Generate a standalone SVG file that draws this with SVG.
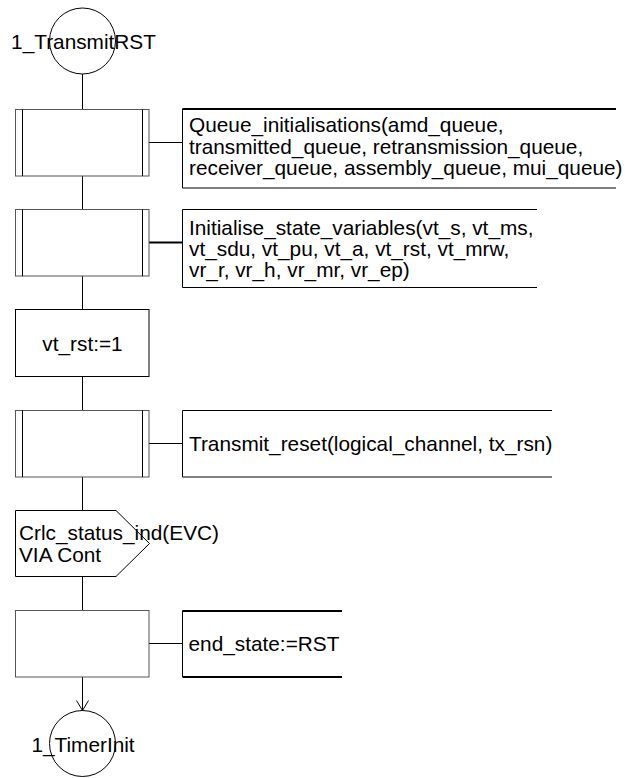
<svg xmlns="http://www.w3.org/2000/svg" width="625" height="778" viewBox="0 0 625 778">
<style>
text{font-family:"Liberation Sans",Arial,sans-serif;font-size:20.8px;fill:#000}
.ln{stroke:#000;stroke-width:1;fill:none}
.box{stroke:#000;stroke-width:1;fill:#fff}
.pbox{stroke:#555;stroke-width:1;fill:#fff}
</style>
<defs>
<marker id="open" markerWidth="24" markerHeight="14" refX="11" refY="6" orient="auto" markerUnits="userSpaceOnUse">
<path d="M1,0 L11,6 L1,12" fill="none" stroke="#000" stroke-width="1"/>
</marker>
</defs>
<rect width="625" height="778" fill="#fff"/>
<g id="connectors">
<line class="ln" x1="82.5" y1="74" x2="82.5" y2="109"/>
<line class="ln" x1="82.5" y1="176" x2="82.5" y2="209"/>
<line class="ln" x1="82.5" y1="276" x2="82.5" y2="309.5"/>
<line class="ln" x1="82.5" y1="376.5" x2="82.5" y2="410"/>
<line class="ln" x1="82.5" y1="477" x2="82.5" y2="510"/>
<line class="ln" x1="82.5" y1="576.5" x2="82.5" y2="610.5"/>
<line class="ln" x1="82.5" y1="677" x2="82.5" y2="710.5" marker-end="url(#open)"/>
<line class="ln" x1="149" y1="142.5" x2="182.5" y2="142.5"/>
<line x1="149" y1="242.5" x2="182.5" y2="242.5" stroke="#000" stroke-width="2"/>
<line class="ln" x1="149" y1="443.5" x2="182.5" y2="443.5"/>
<line class="ln" x1="149" y1="643.5" x2="182.5" y2="643.5"/>
</g>
<g id="start">
<circle class="ln" cx="82.5" cy="41" r="33"/>
<text x="83.5" y="48.5" text-anchor="middle">1_TransmitRST</text>
</g>
<g id="queue_init">
<rect class="pbox" x="15.5" y="109.5" width="133.5" height="66.5"/>
<line class="ln" x1="22.5" y1="109.5" x2="22.5" y2="176"/>
<line class="ln" x1="142.5" y1="109.5" x2="142.5" y2="176"/>
</g>
<g id="queue_init_comment">
<path class="ln" d="M616,109 L182.5,109 L182.5,188 L616,188"/>
<line x1="182.5" y1="109" x2="616" y2="109" stroke="#000" stroke-width="2"/>
<text x="189" y="132">Queue_initialisations(amd_queue,</text>
<text x="189" y="153.5">transmitted_queue, retransmission_queue,</text>
<text x="189" y="175">receiver_queue, assembly_queue, mui_queue)</text>
</g>
<g id="init_vars">
<rect class="pbox" x="15.5" y="209.5" width="133.5" height="66.5"/>
<line class="ln" x1="22.5" y1="209.5" x2="22.5" y2="276"/>
<line class="ln" x1="142.5" y1="209.5" x2="142.5" y2="276"/>
</g>
<g id="init_vars_comment">
<path class="ln" d="M537,209.5 L182.5,209.5 L182.5,287.5 L537,287.5"/>
<text x="189" y="234.5">Initialise_state_variables(vt_s, vt_ms,</text>
<text x="189" y="256">vt_sdu, vt_pu, vt_a, vt_rst, vt_mrw,</text>
<text x="189" y="277">vr_r, vr_h, vr_mr, vr_ep)</text>
</g>
<g id="vt_rst">
<rect class="box" x="15.5" y="309.5" width="133.5" height="67"/>
<text x="82.5" y="350.5" text-anchor="middle">vt_rst:=1</text>
</g>
<g id="transmit_reset">
<rect class="pbox" x="15.5" y="410.5" width="133.5" height="66.5"/>
<line class="ln" x1="22.5" y1="410.5" x2="22.5" y2="477"/>
<line class="ln" x1="142.5" y1="410.5" x2="142.5" y2="477"/>
</g>
<g id="transmit_reset_comment">
<path class="ln" d="M552,410.5 L182.5,410.5 L182.5,477 L552,477"/>
<text x="189" y="450.5">Transmit_reset(logical_channel, tx_rsn)</text>
</g>
<g id="output_signal">
<path class="box" d="M15.5,510.5 L116,510.5 L149.5,543.5 L116,576.5 L15.5,576.5 Z"/>
<text x="19" y="539.5">Crlc_status_ind(EVC)</text>
<text x="19" y="561.5">VIA Cont</text>
</g>
<g id="end_task">
<rect class="pbox" x="15.5" y="610.5" width="133.5" height="66.5"/>
</g>
<g id="end_task_comment">
<path class="ln" d="M182.5,610.5 L182.5,677"/>
<line x1="182.5" y1="611" x2="342" y2="611" stroke="#000" stroke-width="2"/>
<line x1="182.5" y1="677" x2="342" y2="677" stroke="#000" stroke-width="2"/>
<text x="188.5" y="650.5">end_state:=RST</text>
</g>
<g id="next_state">
<circle class="ln" cx="82.5" cy="743.5" r="33"/>
<text x="83" y="751.5" text-anchor="middle">1_TimerInit</text>
</g>
</svg>
